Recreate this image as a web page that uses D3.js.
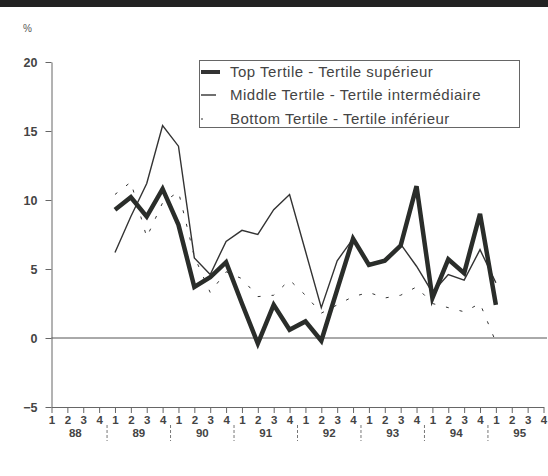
<!DOCTYPE html>
<html>
<head>
<meta charset="utf-8">
<script src="https://cdn.jsdelivr.net/npm/d3@7"></script>
<style>
  body { margin: 0; background: #fff; }
  svg { display: block; font-family: "Liberation Sans", Arial, sans-serif; }
</style>
</head>
<body>
<svg id="chart" width="548" height="476"></svg>
<script>
// quarters 88Q1 .. 95Q4, data starts at 89Q1 (index 4)
const years = ['88', '89', '90', '91', '92', '93', '94', '95'];
const quarterLabels = ['1', '2', '3', '4'];
const startIndex = 4;

const topTertile = [9.3, 10.2, 8.8, 10.8, 8.2, 3.7, 4.4, 5.5, 2.5, -0.4, 2.4, 0.6, 1.2, -0.2, 3.5, 7.2, 5.3, 5.6, 6.7, 11.0, 2.9, 5.7, 4.7, 9.0, 2.4];
const middleTertile = [6.2, 8.8, 11.2, 15.4, 13.9, 5.8, 4.6, 7.0, 7.8, 7.5, 9.3, 10.4, 6.3, 2.2, 5.6, 7.2, 5.4, 5.6, 6.8, 5.2, 3.3, 4.6, 4.2, 6.4, 4.0];
const bottomTertile = [10.4, 11.3, 7.3, 9.8, 10.6, 5.9, 3.3, 4.8, 4.3, 3.0, 3.1, 4.2, 3.1, 1.8, 2.4, 3.0, 3.3, 2.9, 3.1, 3.7, 2.5, 2.2, 1.9, 2.5, -0.3];

const yTicks = [-5, 0, 5, 10, 15, 20];
const legendLabels = [
  'Top Tertile - Tertile supérieur',
  'Middle Tertile - Tertile intermédiaire',
  'Bottom Tertile - Tertile inférieur',
];

const ink = '#333';
const textCol = '#444';
const svg = d3.select('#chart');

const nQ = years.length * 4;
const x = d3.scaleLinear().domain([0, nQ - 1]).range([51.5, 543.5]);
const y = d3.scaleLinear().domain([-5, 20]).range([407, 62]);

// top dark band
svg.append('rect').attr('x', 0).attr('y', 0).attr('width', 548).attr('height', 7).attr('fill', '#222');

svg.append('text').attr('x', 23).attr('y', 32).attr('font-size', 10).attr('fill', '#555').text('%');

// y axis
const yAxis = d3.axisLeft(y).tickValues(yTicks).tickSize(6).tickSizeOuter(0);
svg.append('g')
  .attr('transform', `translate(${x(0)},0)`)
  .call(yAxis)
  .call((g) => g.select('.domain').attr('stroke', '#666'))
  .call((g) => g.selectAll('.tick line').attr('stroke', '#666'))
  .call((g) => g.selectAll('.tick text')
    .attr('x', -14)
    .attr('font-size', 12.5)
    .attr('font-weight', 'bold')
    .attr('font-family', '"Liberation Sans", Arial, sans-serif')
    .attr('fill', textCol));

// x axis: quarters
const xAxis = d3.axisBottom(x)
  .tickValues(d3.range(nQ))
  .tickSize(6)
  .tickSizeOuter(0)
  .tickFormat((i) => quarterLabels[i % 4]);
svg.append('g')
  .attr('transform', `translate(0,${y(-5)})`)
  .call(xAxis)
  .call((g) => g.select('.domain').attr('stroke', '#666'))
  .call((g) => g.selectAll('.tick line').attr('stroke', '#666'))
  .call((g) => g.selectAll('.tick text')
    .attr('y', 9)
    .attr('font-size', 11.5)
    .attr('font-weight', 'bold')
    .attr('font-family', '"Liberation Sans", Arial, sans-serif')
    .attr('fill', textCol));

// year labels and separators
svg.append('g').selectAll('text').data(years).join('text')
  .attr('x', (d, i) => x(i * 4 + 1.5))
  .attr('y', 437)
  .attr('text-anchor', 'middle')
  .attr('font-size', 11.5)
  .attr('font-weight', 'bold')
  .attr('fill', textCol)
  .text((d) => d);
svg.append('g').selectAll('line').data(d3.range(1, years.length)).join('line')
  .attr('x1', (d) => x(d * 4 - 0.5))
  .attr('x2', (d) => x(d * 4 - 0.5))
  .attr('y1', 425)
  .attr('y2', 441)
  .attr('stroke', '#777')
  .attr('stroke-width', 1)
  .attr('stroke-dasharray', '3,2');

// zero line
svg.append('line')
  .attr('x1', x(0)).attr('x2', 547)
  .attr('y1', y(0)).attr('y2', y(0))
  .attr('stroke', '#555').attr('stroke-width', 1);

const line = d3.line()
  .x((d, i) => x(startIndex + i))
  .y((d) => y(d));

svg.append('path').datum(bottomTertile)
  .attr('fill', 'none').attr('stroke', ink).attr('stroke-width', 1)
  .attr('stroke-dasharray', '3,11').attr('d', line);
svg.append('path').datum(middleTertile)
  .attr('fill', 'none').attr('stroke', ink).attr('stroke-width', 1.4)
  .attr('stroke-linejoin', 'miter').attr('d', line);
svg.append('path').datum(topTertile)
  .attr('fill', 'none').attr('stroke', '#2a2d2a').attr('stroke-width', 4.5)
  .attr('stroke-linejoin', 'miter').attr('d', line);

// legend
const lg = svg.append('g');
lg.append('rect')
  .attr('x', 199.5).attr('y', 60.5).attr('width', 320).attr('height', 67)
  .attr('fill', '#fff').attr('stroke', '#666').attr('stroke-width', 1);
const rowY = [72, 95, 119];
const sampleW = [4, 1.4, 1];
const sampleLen = [19, 15, 2];
lg.selectAll('line').data(legendLabels).join('line')
  .attr('x1', 201)
  .attr('x2', (d, i) => 201 + sampleLen[i])
  .attr('y1', (d, i) => rowY[i])
  .attr('y2', (d, i) => rowY[i])
  .attr('stroke', ink)
  .attr('stroke-width', (d, i) => sampleW[i]);
lg.selectAll('text').data(legendLabels).join('text')
  .attr('x', 230)
  .attr('y', (d, i) => rowY[i] + 5)
  .attr('font-size', 15)
  .attr('letter-spacing', 0.5)
  .attr('fill', textCol)
  .text((d) => d);
</script>
</body>
</html>
